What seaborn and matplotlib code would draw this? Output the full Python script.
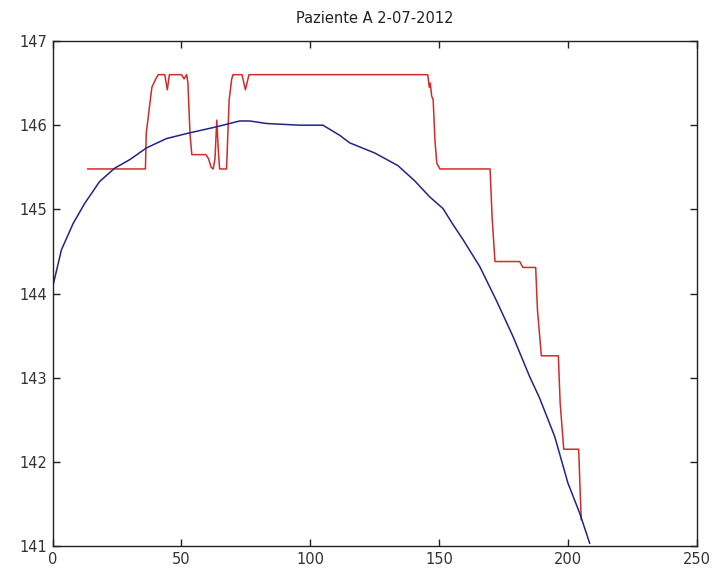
import matplotlib
matplotlib.use("Agg")
import matplotlib.pyplot as plt
import seaborn as sns
import pandas as pd

# Measured signal (step-like, red)
meas_x = [13.5, 36.0, 36.3, 37.7, 38.5, 40.0, 41.0, 43.5, 44.5, 45.3, 50.0, 51.0,
          52.0, 52.5, 53.3, 54.0, 59.5, 60.5, 61.5, 62.3, 63.0, 63.7, 64.3, 64.8,
          67.5, 68.0, 68.5, 69.5, 70.0, 73.5, 74.8, 76.2, 145.6, 146.2, 146.6,
          147.1, 147.7, 148.4, 149.1, 150.3, 169.8, 170.6, 171.7, 181.3, 182.0,
          182.6, 187.5, 188.2, 189.7, 196.3, 197.0, 198.4, 204.2, 204.7, 205.2]
meas_y = [145.48, 145.48, 145.90, 146.25, 146.45, 146.55, 146.60, 146.60, 146.42, 146.60,
          146.60, 146.55, 146.60, 146.50, 145.90, 145.65, 145.65, 145.60, 145.50, 145.48,
          145.60, 146.06, 145.70, 145.48, 145.48, 145.90, 146.30, 146.55, 146.60, 146.60,
          146.42, 146.60, 146.60, 146.45, 146.50, 146.35, 146.30, 145.82, 145.55, 145.48,
          145.48, 144.90, 144.38, 144.38, 144.34, 144.31, 144.31, 143.80, 143.26, 143.26,
          142.70, 142.15, 142.15, 141.70, 141.31]

# Fitted trend (smooth, blue)
fit_x = [0.0, 3.4, 7.9, 12.4, 18.2, 24.1, 29.9, 36.4, 44.1, 51.9, 63.5, 72.6, 76.5,
         83.0, 95.9, 104.9, 111.4, 115.3, 125.0, 134.0, 140.5, 146.3, 151.5, 155.4,
         159.3, 165.8, 172.2, 178.7, 185.2, 189.0, 194.9, 200.0, 204.6, 208.5]
fit_y = [144.08, 144.52, 144.83, 145.07, 145.33, 145.49, 145.59, 145.73, 145.84, 145.90,
         145.98, 146.05, 146.05, 146.02, 146.00, 146.00, 145.88, 145.79, 145.67, 145.52,
         145.34, 145.15, 145.01, 144.82, 144.64, 144.32, 143.92, 143.49, 143.01, 142.76,
         142.30, 141.75, 141.39, 141.03]

x_ticks = [0, 50, 100, 150, 200, 250]
y_ticks = [141, 142, 143, 144, 145, 146, 147]
title = "Paziente A 2-07-2012"

sns.set_style("ticks")
plt.rcParams["font.family"] = ["DejaVu Sans"]

fig = plt.figure(figsize=(7.16, 5.76), dpi=100)
ax = fig.add_axes([0.0736, 0.052, 0.8994, 0.8768])

meas = pd.DataFrame({"x": meas_x, "y": meas_y})
fit = pd.DataFrame({"x": fit_x, "y": fit_y})

sns.lineplot(data=meas, x="x", y="y", sort=False, estimator=None,
             color="#d42a2a", linewidth=1.1, ax=ax)
sns.lineplot(data=fit, x="x", y="y", sort=False, estimator=None,
             color="#23238a", linewidth=1.1, ax=ax)

ax.set_xlim(0, 250)
ax.set_ylim(141, 147)
ax.set_xticks(x_ticks)
ax.set_yticks(y_ticks)
ax.set_xlabel("")
ax.set_ylabel("")
ax.set_title(title, fontsize=10.5, color="#222222", pad=13)

for side in ["top", "right", "left", "bottom"]:
    ax.spines[side].set_visible(True)
    ax.spines[side].set_color("#222222")
    ax.spines[side].set_linewidth(1.0)

ax.tick_params(axis="both", direction="in", length=5, width=1.0,
               top=True, right=True, labelsize=10.5, labelcolor="#333333",
               color="#222222")
ax.tick_params(axis="x", pad=4)
ax.tick_params(axis="y", pad=4)

fig.savefig("out.png", dpi=100, facecolor="white")
